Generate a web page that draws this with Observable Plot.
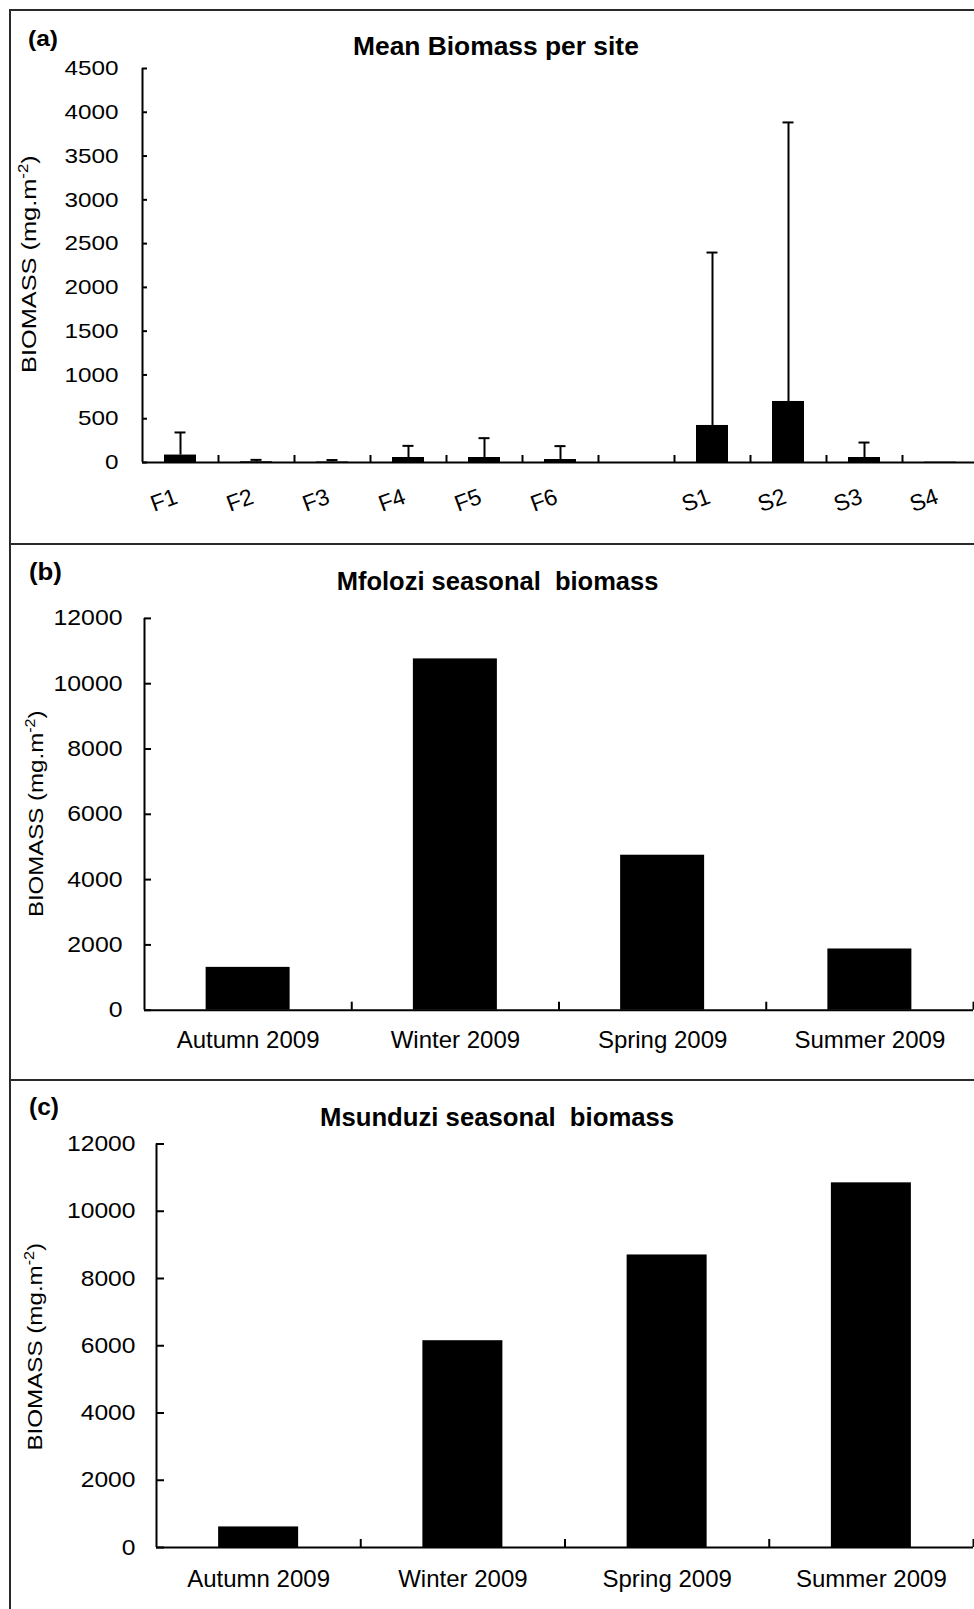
<!DOCTYPE html>
<html><head><meta charset="utf-8">
<script src="https://cdn.jsdelivr.net/npm/d3@7"></script>
<script src="https://cdn.jsdelivr.net/npm/@observablehq/plot@0.6"></script>
<style>
html,body{margin:0;padding:0;background:#fff;}
#fig{position:relative;width:974px;height:1609px;overflow:hidden;background:#fff;}
.line{position:absolute;background:#2a2a2a;z-index:5;}
</style></head><body><div id="fig"></div>
<script>
// ---------- data ----------
const sites = ["F1","F2","F3","F4","F5","F6"," ","S1","S2","S3","S4"];
const siteMean = [85, 8, 6, 57, 57, 34, null, 423, 697, 57, 4];
const siteSD   = [258, 22, 22, 133, 221, 153, null, 1975, 3187, 171, 0];
const siteTicks = [0, 500, 1000, 1500, 2000, 2500, 3000, 3500, 4000, 4500];

const seasons = ["Autumn 2009", "Winter 2009", "Spring 2009", "Summer 2009"];
const mfolozi  = [1312, 10760, 4747, 1875];
const msunduzi = [612, 6150, 8700, 10845];
const seasonTicks = [0, 2000, 4000, 6000, 8000, 10000, 12000];

const titles = ["Mean Biomass per site", "Mfolozi seasonal  biomass", "Msunduzi seasonal  biomass"];
const letters = ["(a)", "(b)", "(c)"];

// ---------- helpers ----------
const FONT = '"Liberation Sans", Arial, Helvetica, sans-serif';
const fig = document.getElementById("fig");
const W = 990;

function place(el, top) {
  el.style.position = "absolute"; el.style.left = "0px"; el.style.top = top + "px";
  fig.appendChild(el); return el;
}
function fitText(sel, x, y, target, rotate) {
  const len = sel.node().getComputedTextLength();
  const k = target / len;
  sel.attr("transform", `translate(${x},${y})${rotate ? ` rotate(${rotate})` : ""} scale(${k},1)`);
}
function addText(svg, {x, y, text, size, weight = "normal", width}) {
  const t = d3.select(svg).append("text").attr("font-family", FONT).attr("font-size", size)
    .attr("font-weight", weight).attr("fill", "#000").attr("text-anchor", "start").text(text);
  fitText(t, x, y, width);
}
function addYLabel(svg, {x, y, width, size = 21}) {
  const t = d3.select(svg).append("text").attr("font-family", FONT).attr("font-size", size)
    .attr("fill", "#000").attr("text-anchor", "start");
  t.append("tspan").text("BIOMASS (mg.m");
  t.append("tspan").attr("font-size", Math.round(size * 0.65)).attr("dy", -8).text("-2");
  t.append("tspan").attr("dy", 8).text(")");
  fitText(t, x, y, width, -90);
}
function stretchTicks(svg, perChar) {
  d3.select(svg).selectAll('[aria-label="y-axis tick label"] text').each(function () {
    d3.select(this).attr("textLength", this.textContent.length * perChar).attr("lengthAdjust", "spacingAndGlyphs");
  });
}
const baseStyle = {fontFamily: FONT, color: "#000", background: "transparent", maxWidth: "none"};

// ---------- panel (a) ----------
{
  const top = 0, H = 544, left = 142, right = 978, yTop = 68, yBot = 462;
  const step = (right - left) / sites.length, frameW = right - left, frameH = yBot - yTop;
  const data = sites.map((s, i) => ({site: s, mean: siteMean[i], sd: siteSD[i]}));
  const bars = data.filter(d => d.mean != null);
  const errs = data.filter(d => d.sd > 0);
  const svg = Plot.plot({
    width: W, height: H, marginLeft: left, marginRight: W - right, marginTop: yTop, marginBottom: H - yBot,
    style: baseStyle,
    x: {type: "band", domain: sites, padding: 0, round: false, axis: null},
    y: {domain: [0, 4500], axis: null},
    marks: [
      Plot.ruleX(errs, {x: "site", y1: "mean", y2: d => d.mean + d.sd, stroke: "#000", strokeWidth: 2}),
      Plot.tickY(errs, {x: "site", y: d => d.mean + d.sd, stroke: "#000", strokeWidth: 2,
        insetLeft: (step - 11) / 2, insetRight: (step - 11) / 2}),
      Plot.barY(bars, {x: "site", y: "mean", fill: "#000", insetLeft: 22, insetRight: 22}),
      Plot.ruleY(siteTicks, {stroke: "#000", strokeWidth: 2, insetRight: frameW - 5}),
      Plot.axisY(siteTicks, {tickSize: 0, tickPadding: 24, tickFormat: d => String(d), fontSize: 21, label: null}),
      Plot.ruleY([0], {stroke: "#000", strokeWidth: 2}),
      Plot.ruleX([sites[0]], {x: d => d, dx: -step / 2, stroke: "#000", strokeWidth: 2}),
      Plot.ruleX(sites, {x: d => d, dx: step / 2, insetTop: frameH - 7, stroke: "#000", strokeWidth: 2}),
      Plot.text(sites, {x: d => d, frameAnchor: "bottom", dy: 45, dx: -14, rotate: -20, fontSize: 23, fill: "#000"})
    ]
  });
  place(svg, top);
  stretchTicks(svg, 13.5);
  addText(svg, {x: 28, y: 46, text: letters[0], size: 22, weight: "bold", width: 30});
  addText(svg, {x: 353, y: 55, text: titles[0], size: 25, weight: "bold", width: 286});
  addYLabel(svg, {x: 36, y: 373, width: 218});
}

// ---------- seasonal panels ----------
function seasonal({top, H, left, right, yTop, yBot, values, barW, pad, tickIn, labelDy, tickChar, letter, title, ylab}) {
  const step = (right - left) / seasons.length, frameW = right - left, frameH = yBot - yTop;
  const data = seasons.map((s, i) => ({season: s, value: values[i]}));
  const svg = Plot.plot({
    width: W, height: H, marginLeft: left, marginRight: W - right, marginTop: yTop, marginBottom: H - yBot,
    style: baseStyle,
    x: {type: "band", domain: seasons, padding: 0, round: false, axis: null},
    y: {domain: [0, 12000], axis: null},
    marks: [
      Plot.barY(data, {x: "season", y: "value", fill: "#000", insetLeft: (step - barW) / 2, insetRight: (step - barW) / 2}),
      Plot.ruleY(seasonTicks, {stroke: "#000", strokeWidth: 2, insetRight: frameW - tickIn}),
      Plot.axisY(seasonTicks, {tickSize: 0, tickPadding: pad, tickFormat: d => String(d), fontSize: 22, label: null}),
      Plot.ruleY([0], {stroke: "#000", strokeWidth: 2}),
      Plot.ruleX([seasons[0]], {x: d => d, dx: -step / 2, stroke: "#000", strokeWidth: 2}),
      Plot.ruleX(seasons, {x: d => d, dx: step / 2, insetTop: frameH - 8, stroke: "#000", strokeWidth: 2}),
      Plot.text(seasons, {x: d => d, frameAnchor: "bottom", dy: labelDy, fontSize: 24, fill: "#000"})
    ]
  });
  place(svg, top);
  stretchTicks(svg, tickChar);
  addText(svg, letter);
  addText(svg, title);
  addYLabel(svg, ylab);
}

seasonal({top: 544, H: 536, left: 144, right: 973, yTop: 73.9, yBot: 465.7, values: mfolozi, barW: 84, pad: 22,
  tickIn: 7, labelDy: 37.5, tickChar: 13.8,
  letter: {x: 29, y: 36, text: letters[1], size: 24, weight: "bold", width: 33},
  title: {x: 336.7, y: 45.9, text: titles[1], size: 26, weight: "bold", width: 321.7},
  ylab: {x: 43.3, y: 373.1, width: 206.6}});

seasonal({top: 1080, H: 529, left: 156, right: 973, yTop: 63.5, yBot: 467, values: msunduzi, barW: 80, pad: 21,
  tickIn: 8, labelDy: 39.3, tickChar: 13.7,
  letter: {x: 29, y: 34.6, text: letters[2], size: 24, weight: "bold", width: 30},
  title: {x: 320, y: 46.2, text: titles[2], size: 25, weight: "bold", width: 354.3},
  ylab: {x: 41.7, y: 370.5, width: 207.8}});

// ---------- panel borders ----------
[[9, 9, 965, 2], [9, 9, 2, 1600], [9, 543, 965, 2], [9, 1079, 965, 2]].forEach(([x, y, w, h]) => {
  const d = document.createElement("div"); d.className = "line";
  Object.assign(d.style, {left: x + "px", top: y + "px", width: w + "px", height: h + "px"});
  fig.appendChild(d);
});
</script></body></html>
